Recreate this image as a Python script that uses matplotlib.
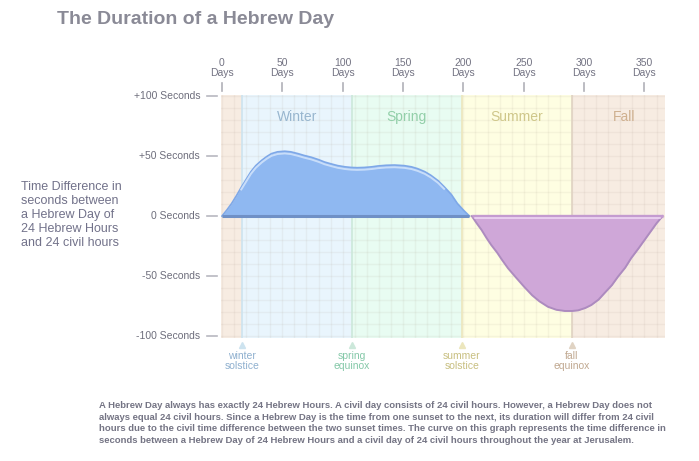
import matplotlib
matplotlib.use('Agg')
import matplotlib.pyplot as plt
import matplotlib.transforms as mtransforms

plt.rcParams['font.family'] = ['Liberation Sans', 'DejaVu Sans']

# curve (day of year, seconds)
pos_days = [0, 4, 8, 12, 16, 20, 24, 28, 33, 37, 41, 46, 52, 57, 63, 68, 74,
            80, 85, 91, 96, 102, 107, 112, 118, 124, 129, 136, 143, 151, 157,
            162, 168, 173, 179, 184, 190, 195, 200, 205]
pos_secs = [0, 5, 10.5, 17, 24, 30.5, 37, 42, 46.5, 49.5, 52, 53.5, 54, 53.5,
            52, 50.5, 49, 47, 45, 43.3, 42, 41, 40.5, 40.3, 40.5, 41, 41.7,
            42.3, 42.5, 42, 41, 39.5, 37, 34, 29.5, 24.5, 18, 10.5, 5, 0]
neg_days = [207, 211, 215, 219, 223, 228, 232, 237, 243, 250, 257, 263, 270,
            277, 284, 290, 295, 301, 306, 312, 317, 323, 328, 334, 339, 345,
            350, 355, 360, 365]
neg_secs = [0, -6, -11.5, -18, -24, -30.5, -36.5, -43.5, -50.5, -58.5, -66,
            -71, -75.5, -78, -79, -79, -78.5, -76.5, -74, -69.5, -64, -57.5,
            -50.5, -43, -35, -27, -20, -13, -6, 0]

day_ticks = [0, 50, 100, 150, 200, 250, 300, 350]
sec_ticks = [100, 50, 0, -50, -100]
sec_labels = ['+100 Seconds', '+50 Seconds', '0 Seconds', '-50 Seconds', '-100 Seconds']

seasons = ['Winter', 'Spring', 'Summer', 'Fall']
season_start = [16.6, 107.4, 198.6, 290]
season_end = [107.4, 198.6, 290, 367]
season_bg = ['#e9f5fd', '#e8fcf2', '#fefee2', '#f7ece2']
season_fg = ['#98b6cf', '#92cfa9', '#cfc78a', '#cfb08f']
marker_names = ['winter\nsolstice', 'spring\nequinox', 'summer\nsolstice', 'fall\nequinox']
marker_fg = ['#8fb0cf', '#84c8a8', '#c8bf80', '#c0a890']
marker_line = ['#cde3ef', '#cce8da', '#ece6bd', '#e0d3c3']

fig = plt.figure(figsize=(6.99, 4.61), dpi=100)
ax = fig.add_axes([221 / 699, 1 - 338 / 461, 444 / 699, 243 / 461])
ax.set_xlim(-0.8, 367)
ax.set_ylim(-101.5, 100.8)
ax.set_facecolor('#f7ece2')
for s in ax.spines.values():
    s.set_visible(False)
ax.set_xticks([])
ax.set_yticks([])

for x0, x1, c in zip(season_start, season_end, season_bg):
    ax.axvspan(x0, x1, color=c, lw=0, zorder=0)

# grid every 10 units
for d in range(0, 370, 10):
    ax.axvline(d, color='#a09080', alpha=0.09, lw=1, zorder=1)
for v in range(-100, 101, 10):
    ax.axhline(v, color='#a09080', alpha=0.09, lw=1, zorder=1)

for x0, c in zip(season_start, marker_line):
    ax.axvline(x0, color=c, lw=1.2, zorder=1.5)

# curves
ax.fill_between(pos_days, pos_secs, 0, color='#8fb8f1', lw=0, zorder=3)
ax.plot(pos_days, pos_secs, color='#7ea8e8', lw=1.2, zorder=3.2)
shift = mtransforms.offset_copy(ax.transData, fig=fig, x=0, y=-2.2, units='dots')
ax.plot(pos_days[4:-4], pos_secs[4:-4], color='#cfe2fb', lw=1.4, alpha=0.9,
        transform=shift, zorder=3.3)
ax.plot([pos_days[0], pos_days[-1]], [0, 0], color='#6f90c6', lw=2.2,
        solid_capstyle='butt', zorder=3.4)

ax.fill_between(neg_days, neg_secs, 0, color='#cfa7d8', lw=0, zorder=3)
ax.plot(neg_days, neg_secs, color='#ad8bbf', lw=1.4, zorder=3.2)
ax.plot([neg_days[0], neg_days[-1]], [0, 0], color='#c49bd0', lw=2.4,
        solid_capstyle='butt', zorder=3.3)
shift2 = mtransforms.offset_copy(ax.transData, fig=fig, x=0, y=-1.6, units='dots')
ax.plot([neg_days[0] + 3, neg_days[-1] - 2], [0, 0], color='#f1dcf6', lw=1.1,
        transform=shift2, zorder=3.4)

# season names
for x0, x1, name, c in zip(season_start, season_end, seasons, season_fg):
    xm = (x0 + x1) / 2 if name != 'Fall' else 333
    ax.text(xm, 0.909, name, transform=ax.get_xaxis_transform(), ha='center',
            va='center', fontsize=10, color=c)

# top day ticks
xt = ax.get_xaxis_transform()
for d in day_ticks:
    ax.plot([d, d], [1.016, 1.049], transform=xt, color='#b0b0b8', lw=1.2,
            clip_on=False)
    ax.text(d, 1.070, f'{d}\nDays', transform=xt, ha='center', va='bottom',
            fontsize=7.5, color='#727282', linespacing=1.05)

# left second ticks
yt = ax.get_yaxis_transform()
for v, lab in zip(sec_ticks, sec_labels):
    ax.plot([-0.0315, -0.009], [v, v], transform=yt, color='#b8b8c0', lw=1.2,
            clip_on=False)
    ax.text(-0.047, v, lab, transform=yt, ha='right', va='center',
            fontsize=7.5, color='#6e6e7c')

# bottom markers
for x0, name, c, lc in zip(season_start, marker_names, marker_fg, marker_line):
    ax.plot([x0], [-0.028], transform=xt, marker='^', ms=4, color=lc,
            clip_on=False)
    ax.text(x0, -0.052, name, transform=xt, ha='center', va='top',
            fontsize=7.5, color=c, linespacing=1.1)

fig.text(57 / 699, 1 - 19 / 461, 'The Duration of a Hebrew Day', ha='left',
         va='center', fontsize=14, fontweight='bold', color='#8a8a96')

fig.text(21 / 699, 1 - 215 / 461,
         'Time Difference in\nseconds between\na Hebrew Day of\n24 Hebrew Hours\nand 24 civil hours',
         ha='left', va='center', fontsize=9, color='#72728a', linespacing=1.2)

note = ('A Hebrew Day always has exactly 24 Hebrew Hours. A civil day consists of 24 civil hours. However, a Hebrew Day does not\n'
        'always equal 24 civil hours. Since a Hebrew Day is the time from one sunset to the next, its duration will differ from 24 civil\n'
        'hours due to the civil time difference between the two sunset times. The curve on this graph represents the time difference in\n'
        'seconds between a Hebrew Day of 24 Hebrew Hours and a civil day of 24 civil hours throughout the year at Jerusalem.')
fig.text(99 / 699, 1 - 401 / 461, note, ha='left', va='top', fontsize=6.8,
         color='#747484', fontweight='bold', linespacing=1.38)

fig.savefig('out.png', dpi=100)
